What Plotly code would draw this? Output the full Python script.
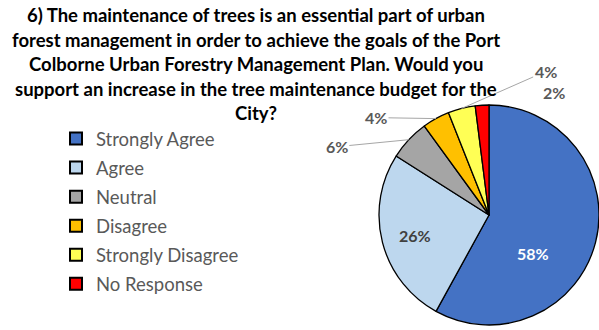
import numpy as np
import plotly.graph_objects as go

categories = ["Strongly Agree", "Agree", "Neutral", "Disagree", "Strongly Disagree", "No Response"]
values = [58, 26, 6, 4, 4, 2]
colors = ["#4472C4", "#BDD7EE", "#A5A5A5", "#FFC000", "#FFFF55", "#FF0000"]
title_lines = [
    "6) The maintenance of trees is an essential part of urban",
    "forest management in order to achieve the goals of the Port",
    "Colborne Urban Forestry Management Plan. Would you",
    "support an increase in the tree maintenance budget for the",
    "City?",
]

W, H = 599, 330
fig = go.Figure()

# pie geometry (pixels): centre and radius
cx, cy, r = 489, 215, 110
fig.add_trace(go.Pie(
    labels=categories, values=values, sort=False, direction="clockwise", rotation=0,
    marker=dict(colors=colors, line=dict(color="black", width=1.3)),
    textinfo="none",
    domain=dict(x=[(cx - r) / W, (cx + r) / W], y=[(H - cy - r) / H, (H - cy + r) / H]),
    showlegend=False,
    automargin=False,
    hoverinfo="label+percent",
))

total = float(sum(values))
start = np.cumsum([0] + values[:-1])


def rim(i, frac=1.0):
    theta = np.deg2rad((start[i] + values[i] / 2.0) / total * 360.0)
    return cx + frac * r * np.sin(theta), cy - frac * r * np.cos(theta)


# inside labels: pixel shift from each slice's mid-angle point at about half radius
inside_shift = {0: (3, -35), 1: (3, -17)}
inside_color = {0: "white", 1: "#404040"}
for i, (sx, sy) in inside_shift.items():
    px, py = rim(i, 0.55)
    fig.add_annotation(text="<b>%d%%</b>" % values[i], x=px / W, y=1 - py / H, xref="paper", yref="paper",
                       showarrow=False, xshift=sx, yshift=sy,
                       font=dict(family="Lato", size=16, color=inside_color[i]))

# outside labels for the small slices, leader from each slice's rim mid-point
label_offsets = {2: (-72, 7), 3: (-60, -1), 4: (84, -37), 5: (72, -13)}   # text offset (px)
label_leader = {2: True, 3: True, 4: True, 5: False}
for i, (ox, oy) in label_offsets.items():
    px, py = rim(i)
    fig.add_annotation(
        text="<b>%d%%</b>" % values[i], x=px / W, y=1 - py / H, xref="paper", yref="paper",
        showarrow=True, arrowhead=0, arrowwidth=1, standoff=0,
        arrowcolor="#A6A6A6" if label_leader[i] else "rgba(0,0,0,0)",
        ax=ox, ay=oy, font=dict(family="Lato", size=16, color="#595959"),
    )

for name, col in zip(categories, colors):
    fig.add_trace(go.Scatter(
        x=[None], y=[None], mode="markers", name=name, legendgroup=name,
        marker=dict(symbol="square", size=11, color=col, line=dict(color="black", width=1.3)),
        showlegend=True, hoverinfo="skip",
    ))

line_y = [15, 40, 64, 89, 113]
for txt, yy in zip(title_lines, line_y):
    fig.add_annotation(text="<b>" + txt + "</b>", x=256 / W, y=1 - yy / H, xref="paper", yref="paper",
                       xanchor="center", yanchor="middle", showarrow=False,
                       font=dict(family="Lato", size=18.5, color="black"))

fig.update_layout(
    width=W, height=H, margin=dict(l=0, r=0, t=0, b=0),
    paper_bgcolor="white", plot_bgcolor="white",
    xaxis=dict(visible=False), yaxis=dict(visible=False),
    legend=dict(x=56 / W, y=1 - 120 / H, xanchor="left", yanchor="top",
                font=dict(family="Lato", size=18.5, color="#595959"),
                tracegroupgap=2, itemsizing="constant", bgcolor="rgba(0,0,0,0)"),
)

fig.write_html("out.html")
